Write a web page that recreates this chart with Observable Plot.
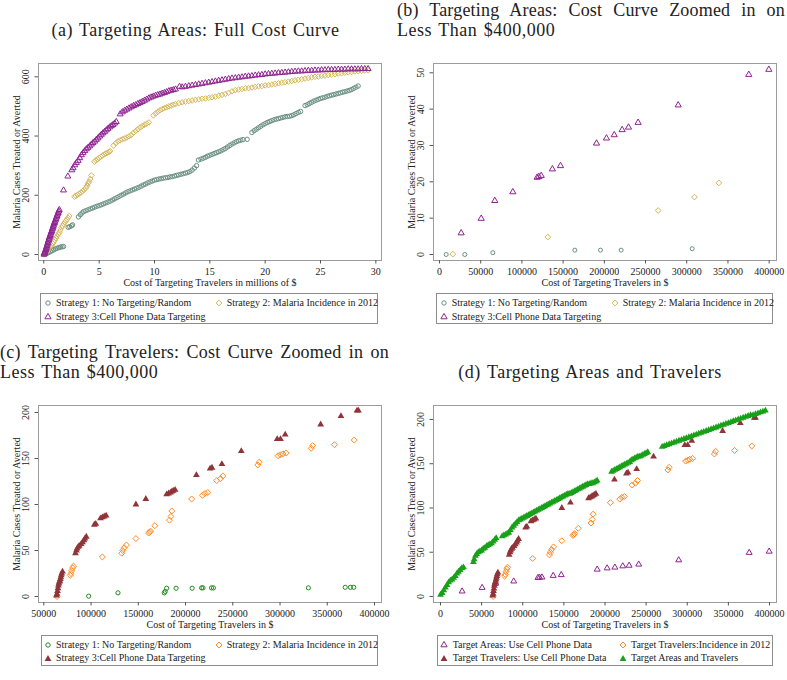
<!DOCTYPE html>
<html><head><meta charset="utf-8">
<script src="https://cdn.jsdelivr.net/npm/d3@7"></script>
<script src="https://cdn.jsdelivr.net/npm/@observablehq/plot@0.6"></script>
<style>
body{margin:0;background:#fff;}
#root{position:relative;width:787px;height:680px;background:#fff;font-family:"Liberation Serif",serif;color:#222;overflow:hidden}
.ttl{position:absolute;font-size:18px;line-height:20px;letter-spacing:0.5px;word-spacing:1.5px;white-space:nowrap;color:#222}
.just{text-align:justify;text-align-last:justify;white-space:nowrap;letter-spacing:0.2px;word-spacing:0}
.panel{position:absolute}
.legend{position:absolute;border:1px solid #8c8c8c;box-sizing:border-box;font-size:10px;color:#222}
.li{position:absolute;white-space:nowrap;line-height:12px}
.lm{position:absolute;width:10px;height:10px;overflow:visible}
</style></head>
<body><div id="root"></div>
<script>
// ---------- Panel (a): full cost curve (x in millions of $) ----------
const aRandom = [[0.02,0],[0.15,2],[0.3,4],[0.45,7],[0.6,10],[0.75,13],[0.9,16],[1.05,19],[1.2,21],[1.35,23],[1.5,25],[1.65,26],[1.78,27],
[2.2,92],[2.35,94],[2.5,97],[2.6,100],
[3.13,127],[3.3,134],[3.45,140],[3.6,145],[3.8,148],[4.0,151],[4.2,154],[4.4,157],[4.6,160],[4.8,163],[5.0,165],[5.2,168],[5.4,171],[5.6,174],[5.8,177],[6.0,180],[6.2,184],[6.4,188],[6.6,192],[6.8,196],[7.0,200],[7.2,204],[7.4,208],[7.6,212],[7.8,215],[8.0,218],[8.2,221],[8.4,224],[8.6,227],[8.8,231],[9.0,235],[9.2,238],[9.4,242],[9.6,245],[9.8,248],[10.0,251],[10.2,253],[10.4,255],[10.6,256],[10.8,258],[11.0,259],[11.2,260],[11.4,262],[11.6,263],[11.8,265],[12.0,267],[12.2,269],[12.4,271],[12.6,273],[12.8,275],[13.0,277],[13.2,280],[13.4,285],[13.6,292],[13.8,300],
[13.97,319],[14.2,322],[14.4,325],[14.6,328],[14.8,332],[15.0,335],[15.2,338],[15.4,341],[15.6,344],[15.8,347],[16.0,350],[16.2,354],[16.4,358],[16.6,363],[16.8,368],[17.0,373],[17.2,377],[17.4,381],[17.6,384],[17.8,386],[18.0,388],[18.37,389],[18.8,412],[19.0,418],[19.2,423],[19.4,428],[19.6,433],[19.8,438],[20.0,442],[20.2,446],[20.4,449],[20.6,452],[20.8,455],[21.0,457],[21.2,459],[21.4,461],[21.6,463],[21.8,465],[22.0,466],[22.2,467],[22.4,469],[22.6,472],[22.8,476],[23.0,480],[23.2,483],[23.6,503],[23.8,506],[24.0,510],[24.2,514],[24.4,518],[24.6,521],[24.8,524],[25.0,527],[25.2,529],[25.4,531],[25.6,534],[25.8,536],[26.0,538],[26.2,540],[26.4,542],[26.6,544],[26.8,546],[27.0,548],[27.2,550],[27.4,552],[27.6,554],[27.8,557],[28.0,561],[28.2,565],[28.4,569]];

const aIncidence = [[0.02,0],[0.1,4],[0.2,9],[0.3,14],[0.4,18],[0.5,23],[0.6,27],[0.7,31],[0.8,37],[0.9,43],[1.0,49],[1.1,55],[1.2,61],[1.3,68],[1.4,74],[1.5,82],[1.6,91],[1.7,97],[1.8,103],[1.9,109],[2.0,114],[2.1,119],[2.2,124],[2.3,130],
[2.77,195],[2.9,198],[3.05,202],[3.2,205],[3.35,209],[3.5,214],[3.65,219],[3.8,225],[3.9,232],[4.0,240],[4.1,246],[4.2,255],[4.3,267],
[4.58,313],[4.7,318],[4.85,322],[5.0,326],[5.15,330],[5.3,334],[5.45,338],[5.6,341],[5.75,344],[5.9,347],[6.0,349],[6.3,368],[6.5,376],[6.7,382],[6.9,386],[7.1,389],[7.3,392],[7.5,395],[7.7,399],[7.9,404],[8.1,411],[8.3,417],[8.5,423],[8.7,429],[8.9,434],[9.1,438],[9.3,442],[9.5,446],
[9.9,470],[10.1,476],[10.3,482],[10.5,487],[10.7,491],[10.9,494],[11.1,497],[11.3,500],[11.5,503],[11.7,506],[11.9,508],[12.2,511],[12.5,514],[12.8,516],[13.1,518],[13.4,520],[13.7,522],[14.0,524],[14.3,526],[14.6,527],[14.9,529],[15.2,531],[15.5,533],[15.8,536],[16.1,539],[16.4,542],[16.7,546],[17.0,551],[17.3,555],[17.6,557],[17.9,559],[18.2,561],[18.5,562],[18.8,564],[19.1,566],[19.4,568],[19.7,569],[20.0,571],[20.3,572],[20.6,574],[20.9,576],[21.2,578],[21.5,580],[21.8,582],[22.1,584],[22.4,586],[22.7,588],[23.0,590],[23.3,592],[23.6,594],[23.9,596],[24.2,598],[24.5,600],[24.8,601],[25.1,603],[25.4,604],[25.7,606],[26.0,608],[26.3,609],[26.6,611],[26.9,612],[27.2,614],[27.5,615],[27.8,616],[28.1,618],[28.4,619],[28.7,620],[29.0,621],[29.3,622]];

const aCellPhone = [[0.02,0],[0.05,3],[0.08,6],[0.12,10],[0.16,15],[0.2,19],[0.24,24],[0.28,29],[0.32,34],[0.36,39],[0.4,44],[0.44,49],[0.48,54],[0.52,59],[0.56,63],[0.6,67],[0.64,72],[0.68,76],[0.72,80],[0.76,85],[0.8,89],[0.84,94],[0.88,98],[0.92,103],[0.96,107],[1.0,111],[1.05,116],[1.1,121],[1.15,126],[1.2,131],[1.25,136],[1.3,141],[1.35,146],[1.4,151],
[1.78,217],[2.17,264],
[2.53,285],[2.65,292],[2.8,302],[2.95,310],[3.1,317],[3.25,326],[3.4,336],[3.55,343],[3.7,350],[3.85,356],[4.0,361],[4.15,366],[4.3,372],[4.45,377],[4.6,382],[4.75,388],[4.9,393],[5.05,399],[5.2,405],[5.35,410],[5.5,415],[5.65,420],[5.8,425],[5.95,430],[6.1,434],[6.25,438],[6.4,443],[6.55,448],
[6.9,474],[7.1,481],[7.3,486],[7.5,490],[7.7,494],[7.9,498],[8.1,502],[8.3,505],[8.5,509],[8.7,512],[8.9,516],[9.1,520],[9.3,524],[9.5,528],[9.7,531],[9.9,534],[10.1,537],[10.3,539],[10.5,541],[10.7,544],[10.9,546],[11.1,549],[11.3,552],[11.5,554],[11.7,556],[11.9,558],[12.26,567],[12.5,565],[12.8,567],[13.1,569],[13.4,571],[13.7,573],[14.0,575],[14.3,577],[14.6,579],[14.9,581],[15.2,583],[15.5,585],[15.8,587],[16.1,589],[16.4,591],[16.7,593],[17.0,595],[17.3,596],[17.6,598],[17.9,599],[18.2,601],[18.5,602],[18.8,603],[19.1,605],[19.4,606],[19.7,607],[20.0,609],[20.3,610],[20.6,611],[20.9,612],[21.2,613],[21.5,614],[21.8,615],[22.1,616],[22.4,617],[22.7,618],[23.0,619],[23.3,619],[23.6,620],[23.9,621],[24.2,621],[24.5,622],[24.8,622],[25.1,623],[25.4,623],[25.7,624],[26.0,624],[26.3,624],[26.6,625],[26.9,625],[27.2,625],[27.5,626],[27.8,626],[28.1,626],[28.4,626],[28.7,627],[29.0,627],[29.3,627]];

// ---------- Panel (b): targeting areas, < $400,000 ----------
const bRandom = [[8100,0],[30700,0],[64700,0.5],[164200,1.2],[195300,1.2],[220400,1.2],[306600,1.6]];
const bIncidence = [[16200,0.1],[131400,4.8],[265300,12.1],[309400,15.8],[338900,19.7]];
const bCellPhone = [[26300,5.9],[50600,9.9],[67100,14.8],[89000,17.2],[118500,21.2],[120500,21.4],[123400,21.7],[137000,23.5],[146800,24.4],[190500,30.6],[202600,32.0],[212000,32.9],[221600,34.3],[229300,35.0],[241000,36.3],[289600,41.1],[375300,49.5],[399600,50.9]];

// ---------- Panel (c): targeting travelers, < $400,000 ----------
const cRandom = [[97500,0.4],[128500,4],[177500,4],[178500,5.5],[180000,9],[190000,9],[207000,9],[217000,9.4],[218500,9.4],[227500,9.4],[229500,9.4],[330000,9.4],[369000,10],[374500,10],[378000,10]];
const cIncidence = [[64000,0],[78000,23],[78800,25],[79500,28],[80500,31],[81500,33],[112000,43],[132500,47],[133500,50],[135000,53],[137500,56],[147500,63],[161000,69],[162000,70],[163000,71],[167500,77],[183000,83],[184500,87],[185500,93],[206500,106],[218000,110],[220500,112],[223500,113],[233000,126],[237000,128],[239500,131],[276500,143],[278000,146],[298000,153],[300500,154],[303000,155],[306500,156],[333000,161],[334500,164],[357500,165],[378500,170]];
const cCellPhone = [[63500,1],[64000,3],[64500,6],[65000,9],[65500,12],[66000,14],[66500,16],[67000,17],[67500,19],[68000,21],[68500,23],[69000,25],[69800,27],[83500,47],[84500,50],[85300,52],[86500,54],[87500,55],[89500,57],[91000,59],[92500,61],[93500,63],[95000,65],[103500,78],[105000,79],[110000,85],[112000,86],[114000,87],[116000,88],[147500,100],[158000,106],[180000,111],[182000,112],[184000,113],[185500,114],[187000,115],[189000,116],[211500,132],[226000,139],[228000,140],[238500,144],[259000,158],[297000,171],[300500,171],[305500,176],[343000,187],[364500,196],[381500,202],[383000,202]];

// ---------- Panel (d): areas and travelers combined ----------
const dAreasTravelers = [[0,2],[2000,4],[4000,7],[6000,10],[8000,13],[10000,16],[12000,18],[14000,19],[16000,21],[18000,23],[20000,26],[22000,28],[24000,30],[26000,32],[28000,33],
[40000,39],[41000,42],[42500,46],[44000,48],[46000,50],[48000,51],[50000,52],[52000,54],[54000,55],[56000,57],[58000,58],[60000,59],[62000,60],[64000,62],[66000,64],[67700,66],
[75000,68],[77000,69],[79000,70],[81000,71],[83000,72],[85000,75],[87000,78],[89000,80],[91000,82],[93000,84],[95000,86],[97000,87],[99000,88],[101000,89],[103000,90],[105000,91],[107000,92],[109000,93],[111000,94],[113000,95],[115000,96],[117000,97],[119000,98],[121000,99],[123000,100],[125000,101],[127000,102],[129000,103],[131000,104],[133000,105],[135000,106],[137000,107],[139000,108],[141000,109],[143000,110],[145000,111],[147000,112],[149000,113],[151000,114],[153000,115],[155000,116],[157000,116],[159000,117],[161000,118],[163000,119],[165000,120],[167000,121],[169000,122],[171000,123],[173000,124],[175000,125],[177000,126],[179000,127],[181000,127],[183000,128],[185000,128],[187000,129],[189000,130],[190500,131],
[208000,141],[210000,142],[212000,143],[214000,144],[216000,145],[218000,146],[220000,147],[222000,148],[224000,149],[226000,150],[228000,151],[230000,152],[232000,154],[234000,155],[236000,156],[238000,157],[240000,158],[242000,158],[244000,159],[246000,160],[248000,161],[250000,162],[252000,163],
[269500,169],[272000,170],[275000,171],[278000,172],[281000,173],[284000,174],[287000,175],[290000,176],[293000,177],[296000,178],[299000,179],[302000,180],[305000,181],[308000,182],[311000,183],[314000,184],[317000,185],[320000,186],[323000,187],[326000,188],[329000,189],[332000,190],[335000,191],[338000,192],[341000,193],[344000,194],[347000,195],[350000,196],[353000,197],[356000,198],[359000,199],[362000,200],[365000,201],[368000,202],[371000,203],[374000,204],[377000,205],[380000,205],[383000,206],[386000,207],[389000,208],[392000,209],[395000,210]];

// tick values and labels
const ticksXa = [0,5,10,15,20,25,30];
const ticksYa = [0,200,400,600];
const ticksXb = [0,50000,100000,150000,200000,250000,300000,350000,400000];
const ticksYb = [0,10,20,30,40,50];
const ticksXc = [50000,100000,150000,200000,250000,300000,350000,400000];
const ticksYc = [0,50,100,150,200];
const yLabel = "Malaria Cases Treated or Averted";
const xLabelA = "Cost of Targeting Travelers in millions of $";
const xLabelB = "Cost of Targeting Travelers in $";
const stratNames = ["Strategy 1: No Targeting/Random","Strategy 2: Malaria Incidence in 2012","Strategy 3:Cell Phone Data Targeting"];
const dNames = ["Target Areas: Use Cell Phone Data","Target Travelers:Incidence in 2012","Target Travelers: Use Cell Phone Data","Target Areas and Travelers"];

const C = {teal:"#6a8f82", khaki:"#d4b656", purple:"#8e2490", green:"#238b23", orange:"#ff8a24", maroon:"#8f3539", bright:"#19a019"};
const symMap = {circle:d3.symbolCircle, triangle:d3.symbolTriangle, diamond2:d3.symbolDiamond2};

const root = document.getElementById("root");

function panel({left, top, xDomain, yDomain, xTicks, yTicks, xLabel, series}) {
  const svg = Plot.plot({
    width: 390, height: 235,
    marginLeft: 38, marginRight: 9, marginTop: 8, marginBottom: 30,
    x: {domain: xDomain}, y: {domain: yDomain},
    style: {fontFamily: "Liberation Serif, serif", fontSize: "10px", background: "transparent", color: "#222", overflow: "visible"},
    marks: [
      Plot.frame({stroke: "#9c9c9c"}),
      Plot.axisX({ticks: xTicks, tickFormat: d3.format("d"), tickSize: 3.5, tickPadding: 4, label: null, stroke: "#555", fontSize: 10}),
      Plot.axisY({ticks: yTicks, tickFormat: d3.format("d"), tickSize: 3.5, tickPadding: 6, tickRotate: -90, label: null, stroke: "#555", fontSize: 10}),
      Plot.text([xLabel], {frameAnchor: "bottom", dy: 22, lineAnchor: "middle", textAnchor: "middle", text: d => d, fontSize: 10}),
      Plot.text([yLabel], {frameAnchor: "left", dx: -22, rotate: -90, textAnchor: "middle", lineAnchor: "middle", text: d => d, fontSize: 10}),
      ...series.map(s => Plot.dot(s.data, {x: d => d[0], y: d => d[1], symbol: s.symbol, r: s.r,
          stroke: s.filled ? "none" : s.color, fill: s.filled ? s.color : "none", strokeWidth: 1}))
    ]
  });
  const div = document.createElement("div");
  div.className = "panel";
  div.style.left = left + "px"; div.style.top = top + "px";
  div.appendChild(svg);
  root.appendChild(div);
}

function legend({left, top, width, items}) {
  const box = document.createElement("div");
  box.className = "legend";
  Object.assign(box.style, {left: left+"px", top: top+"px", width: width+"px", height: "31px"});
  for (const it of items) {
    const ns = "http://www.w3.org/2000/svg";
    const m = document.createElementNS(ns, "svg");
    m.setAttribute("class", "lm");
    m.setAttribute("width", 10); m.setAttribute("height", 10);
    m.style.left = (it.mx - 5) + "px"; m.style.top = (it.y - 5) + "px";
    const p = document.createElementNS(ns, "path");
    p.setAttribute("d", d3.symbol(symMap[it.symbol], it.r * it.r * Math.PI)());
    p.setAttribute("transform", "translate(5,5)");
    p.setAttribute("fill", it.filled ? it.color : "none");
    p.setAttribute("stroke", it.filled ? "none" : it.color);
    m.appendChild(p);
    box.appendChild(m);
    const t = document.createElement("div");
    t.className = "li";
    t.textContent = it.text;
    t.style.left = it.tx + "px"; t.style.top = (it.y - 6.5) + "px";
    box.appendChild(t);
  }
  root.appendChild(box);
}

function title(text, left, top, width, just) {
  const d = document.createElement("div");
  d.className = "ttl" + (just ? " just" : "");
  d.textContent = text;
  d.style.left = left + "px"; d.style.top = top + "px";
  if (width) { d.style.width = width + "px"; if (!just) d.style.textAlign = "center"; }
  root.appendChild(d);
}

// Titles
title("(a) Targeting Areas: Full Cost Curve", 0, 20, 391, false);
title("(b) Targeting Areas: Cost Curve Zoomed in on", 397, 0, 388, true);
title("Less Than $400,000", 397, 20, null, false);
title("(c) Targeting Travelers: Cost Curve Zoomed in on", 0, 342, 389, true);
title("Less Than $400,000", 0, 362, null, false);
title("(d) Targeting Areas and Travelers", 395, 362, 390, false);

// Panels
panel({left: 0, top: 55, xDomain: [-0.479, 30.51], yDomain: [-20.3, 645], xTicks: ticksXa, yTicks: ticksYa, xLabel: xLabelA,
  series: [
    {data: aRandom, symbol: "circle", r: 2.2, color: C.teal},
    {data: aIncidence, symbol: "diamond2", r: 2.5, color: C.khaki},
    {data: aCellPhone, symbol: "triangle", r: 2.2, color: C.purple}
  ]});
panel({left: 395, top: 55, xDomain: [-7280, 408900], yDomain: [-1.65, 52.56], xTicks: ticksXb, yTicks: ticksYb, xLabel: xLabelB,
  series: [
    {data: bRandom, symbol: "circle", r: 2.0, color: C.teal},
    {data: bIncidence, symbol: "diamond2", r: 2.6, color: C.khaki},
    {data: bCellPhone, symbol: "triangle", r: 2.3, color: C.purple}
  ]});
panel({left: 0, top: 397, xDomain: [44400, 407400], yDomain: [-6.5, 207.6], xTicks: ticksXc, yTicks: ticksYc, xLabel: xLabelB,
  series: [
    {data: cRandom, symbol: "circle", r: 2.1, color: C.green},
    {data: cIncidence, symbol: "diamond2", r: 2.7, color: C.orange},
    {data: cCellPhone, symbol: "triangle", r: 2.5, color: C.maroon, filled: true}
  ]});
panel({left: 395, top: 397, xDomain: [-8500, 408500], yDomain: [-6.8, 215.8], xTicks: ticksXb, yTicks: ticksYc, xLabel: xLabelB,
  series: [
    {data: bCellPhone, symbol: "triangle", r: 2.2, color: C.purple},
    {data: cIncidence, symbol: "diamond2", r: 2.7, color: C.orange},
    {data: cCellPhone, symbol: "triangle", r: 2.5, color: C.maroon, filled: true},
    {data: dAreasTravelers, symbol: "triangle", r: 2.5, color: C.bright, filled: true}
  ]});

// Legends
legend({left: 40, top: 293, width: 338, items: [
  {symbol: "circle", r: 2.2, color: C.teal, mx: 6.7, tx: 15, y: 9, text: stratNames[0]},
  {symbol: "diamond2", r: 2.6, color: C.khaki, mx: 178, tx: 185.7, y: 9, text: stratNames[1]},
  {symbol: "triangle", r: 2.3, color: C.purple, mx: 6.7, tx: 15, y: 23, text: stratNames[2]}
]});
legend({left: 436, top: 293, width: 337, items: [
  {symbol: "circle", r: 2.2, color: C.teal, mx: 6.7, tx: 14.7, y: 9, text: stratNames[0]},
  {symbol: "diamond2", r: 2.6, color: C.khaki, mx: 178, tx: 185.7, y: 9, text: stratNames[1]},
  {symbol: "triangle", r: 2.3, color: C.purple, mx: 6.7, tx: 14.7, y: 23, text: stratNames[2]}
]});
legend({left: 41, top: 635, width: 337, items: [
  {symbol: "circle", r: 2.2, color: C.green, mx: 5.7, tx: 14, y: 9.3, text: stratNames[0]},
  {symbol: "diamond2", r: 2.7, color: C.orange, mx: 177.3, tx: 184.7, y: 9.3, text: stratNames[1]},
  {symbol: "triangle", r: 2.5, color: C.maroon, filled: true, mx: 5.7, tx: 14, y: 22.7, text: stratNames[2]}
]});
legend({left: 437, top: 635, width: 336, items: [
  {symbol: "triangle", r: 2.3, color: C.purple, mx: 5.7, tx: 14.7, y: 9.3, text: dNames[0]},
  {symbol: "diamond2", r: 2.7, color: C.orange, mx: 184.7, tx: 193, y: 9.3, text: dNames[1]},
  {symbol: "triangle", r: 2.5, color: C.maroon, filled: true, mx: 5.7, tx: 14.7, y: 22.7, text: dNames[2]},
  {symbol: "triangle", r: 2.5, color: C.bright, filled: true, mx: 184.7, tx: 193, y: 22.7, text: dNames[3]}
]});
</script>
</body></html>
